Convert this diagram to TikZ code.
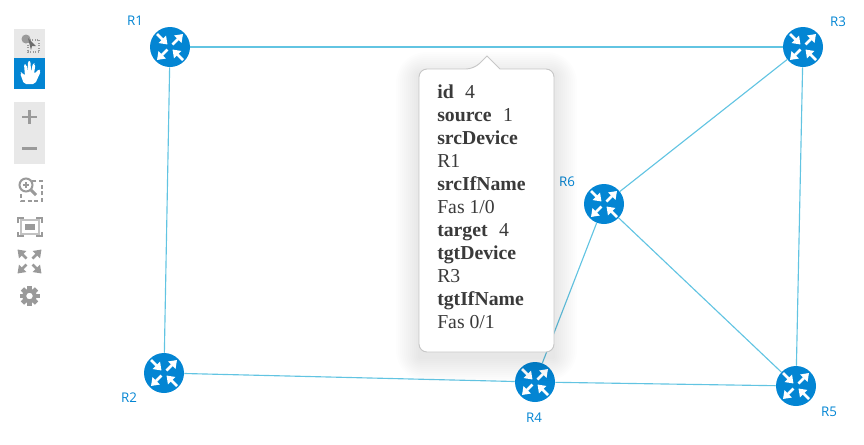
\documentclass[tikz,border=0pt]{standalone}
\usepackage{fontspec}
\setmainfont{Liberation Serif}
\newfontfamily\labelfont{Open Sans}
\usepackage{xcolor}
\usetikzlibrary{arrows.meta, calc, positioning}
\definecolor{routerblue}{HTML}{0385D3}
\definecolor{linkblue}{HTML}{62C4E2}
\definecolor{toolgray}{HTML}{9A9A9A}
\definecolor{toolback}{HTML}{E8E8E8}
\definecolor{tiptext}{HTML}{3A3A3A}
\tikzset{
    routerarrow/.style={white, line width=1.9pt, -{Triangle[length=5.5pt,width=7.5pt]}},
    router/.style={circle, fill=routerblue, inner sep=0pt, minimum size=30pt,
        path picture={
            \coordinate (c) at (path picture bounding box.center);
            \draw[routerarrow] ($(c)+(-13,-13)$) -- ($(c)+(-2.5,-2.5)$);
            \draw[routerarrow] ($(c)+(2.5,-2.5)$) -- ($(c)+(13,-13)$);
            \draw[routerarrow] ($(c)+(-2.5,2.5)$) -- ($(c)+(-13,13)$);
            \draw[routerarrow] ($(c)+(13,13)$) -- ($(c)+(2.5,2.5)$);
        }},
    routerlabel/.style={font=\labelfont\fontsize{10pt}{11pt}\selectfont, text=routerblue, inner sep=0pt},
    link/.style={linkblue, line width=0.85pt},
    toolbox/.style={fill=toolback, draw=none},
    toolline/.style={toolgray, line width=1.5pt},
    screenarrow/.style={toolgray, line width=2pt, -{Triangle[length=5.5pt,width=7.5pt]}},
}
\begin{document}
\begin{tikzpicture}[x=0.75pt, y=-0.75pt]
    \useasboundingbox (0,0) rectangle (864,444);

    % routers
    \node[router] (R1) at (170,47) {};
    \node[router] (R2) at (164,373) {};
    \node[router] (R3) at (803,47) {};
    \node[router] (R4) at (535,382) {};
    \node[router] (R5) at (796,386) {};
    \node[router] (R6) at (604,204) {};

    \node[routerlabel] (R1label) at (135,21) {R1};
    \node[routerlabel] (R2label) at (129,398) {R2};
    \node[routerlabel] (R3label) at (838,22) {R3};
    \node[routerlabel] (R4label) at (534,418) {R4};
    \node[routerlabel] (R5label) at (829,412) {R5};
    \node[routerlabel] (R6label) at (567,182) {R6};

    % links
    \foreach \from/\to in {R1/R3, R1/R2, R2/R4, R4/R5, R4/R6, R6/R3, R6/R5, R3/R5}
        \draw[link] (\from) -- (\to);

    % tooltip
    \foreach \grow in {1,3,...,23}
        \fill[black, rounded corners=\grow pt, opacity=0.008]
            (419-\grow,75-\grow) rectangle (554+\grow,358+\grow);
    \draw[fill=white, draw=black!22, line width=0.7pt, rounded corners=6pt]
        (419,69) -- (474,69) [sharp corners] -- (487,56) -- (500,69) [rounded corners=6pt] -- (554,69)
        -- (554,352) -- (419,352) -- cycle;
    \node[anchor=north west, align=left, inner sep=0pt, text=tiptext,
        font=\fontsize{14.8pt}{17.25pt}\selectfont] (tipbody) at (437,84.5)
        {\textbf{id}\,\, 4\\
         \textbf{source}\,\, 1\\
         \textbf{srcDevice}\\
         R1\\
         \textbf{srcIfName}\\
         Fas 1/0\\
         \textbf{target}\,\, 4\\
         \textbf{tgtDevice}\\
         R3\\
         \textbf{tgtIfName}\\
         Fas 0/1};

    % toolbar
    \fill[toolbox] (14,29) rectangle (45,58);
    \fill[routerblue] (14,58) rectangle (45,89);
    \fill[toolbox] (14,102) rectangle (45,164);

    % select
    \draw[toolgray, densely dotted, line width=0.8pt] (28,40) rectangle (39,52);
    \fill[toolgray] (26,39) circle (4.5);
    \fill[toolgray!70!black] (28,38) -- (36,46) -- (32,46) -- (31,50) -- cycle;

    % hand
    \fill[white, rounded corners=1.5pt] (24,84) -- (20,73) -- (22,72) -- (25,76) -- (24,64) -- (26.5,64) -- (27.5,72)
        -- (28,61) -- (30.5,61) -- (31,72) -- (33,63) -- (35.5,64) -- (34,74) -- (39,69) -- (41,71) -- (35,84) -- cycle;

    % zoom buttons
    \draw[toolline, line width=2pt] (22,117) -- (37,117) (29.5,110) -- (29.5,124);
    \draw[toolline, line width=2pt] (22,148.5) -- (37,148.5);

    % zoom box
    \draw[toolgray, densely dashed, line width=0.8pt] (21,181) rectangle (42,201);
    \fill[white] (17,178) rectangle (31,192);
    \draw[toolgray, line width=1.5pt] (26,185) circle (6.5);
    \draw[toolgray, line width=2.2pt] (31,190) -- (36,195);
    \draw[toolgray, line width=1pt] (23,185) -- (29,185) (26,182) -- (26,188);

    % fit view
    \draw[toolgray, line width=0.9pt] (18,223) -- (18,218) -- (24,218) (36,218) -- (42,218) -- (42,223)
        (42,232) -- (42,236) -- (36,236) (24,236) -- (18,236) -- (18,232);
    \draw[toolgray!60, line width=0.9pt] (21,220) rectangle (39,234);
    \fill[toolgray] (25,224) rectangle (35,230);

    % full screen
    \foreach \sx/\sy in {-1/-1, 1/-1, -1/1, 1/1}
        \draw[screenarrow] ($(29.5,261.5)+(\sx*3,\sy*3)$) -- ($(29.5,261.5)+(\sx*12,\sy*12)$);

    % settings
    \foreach \a in {0,45,...,315}
        \draw[toolgray, line width=3.5pt] ($(29.5,296)+(\a:6)$) -- ($(29.5,296)+(\a:10)$);
    \draw[toolgray, line width=3pt] (29.5,296) circle (5.5);
\end{tikzpicture}
\end{document}
